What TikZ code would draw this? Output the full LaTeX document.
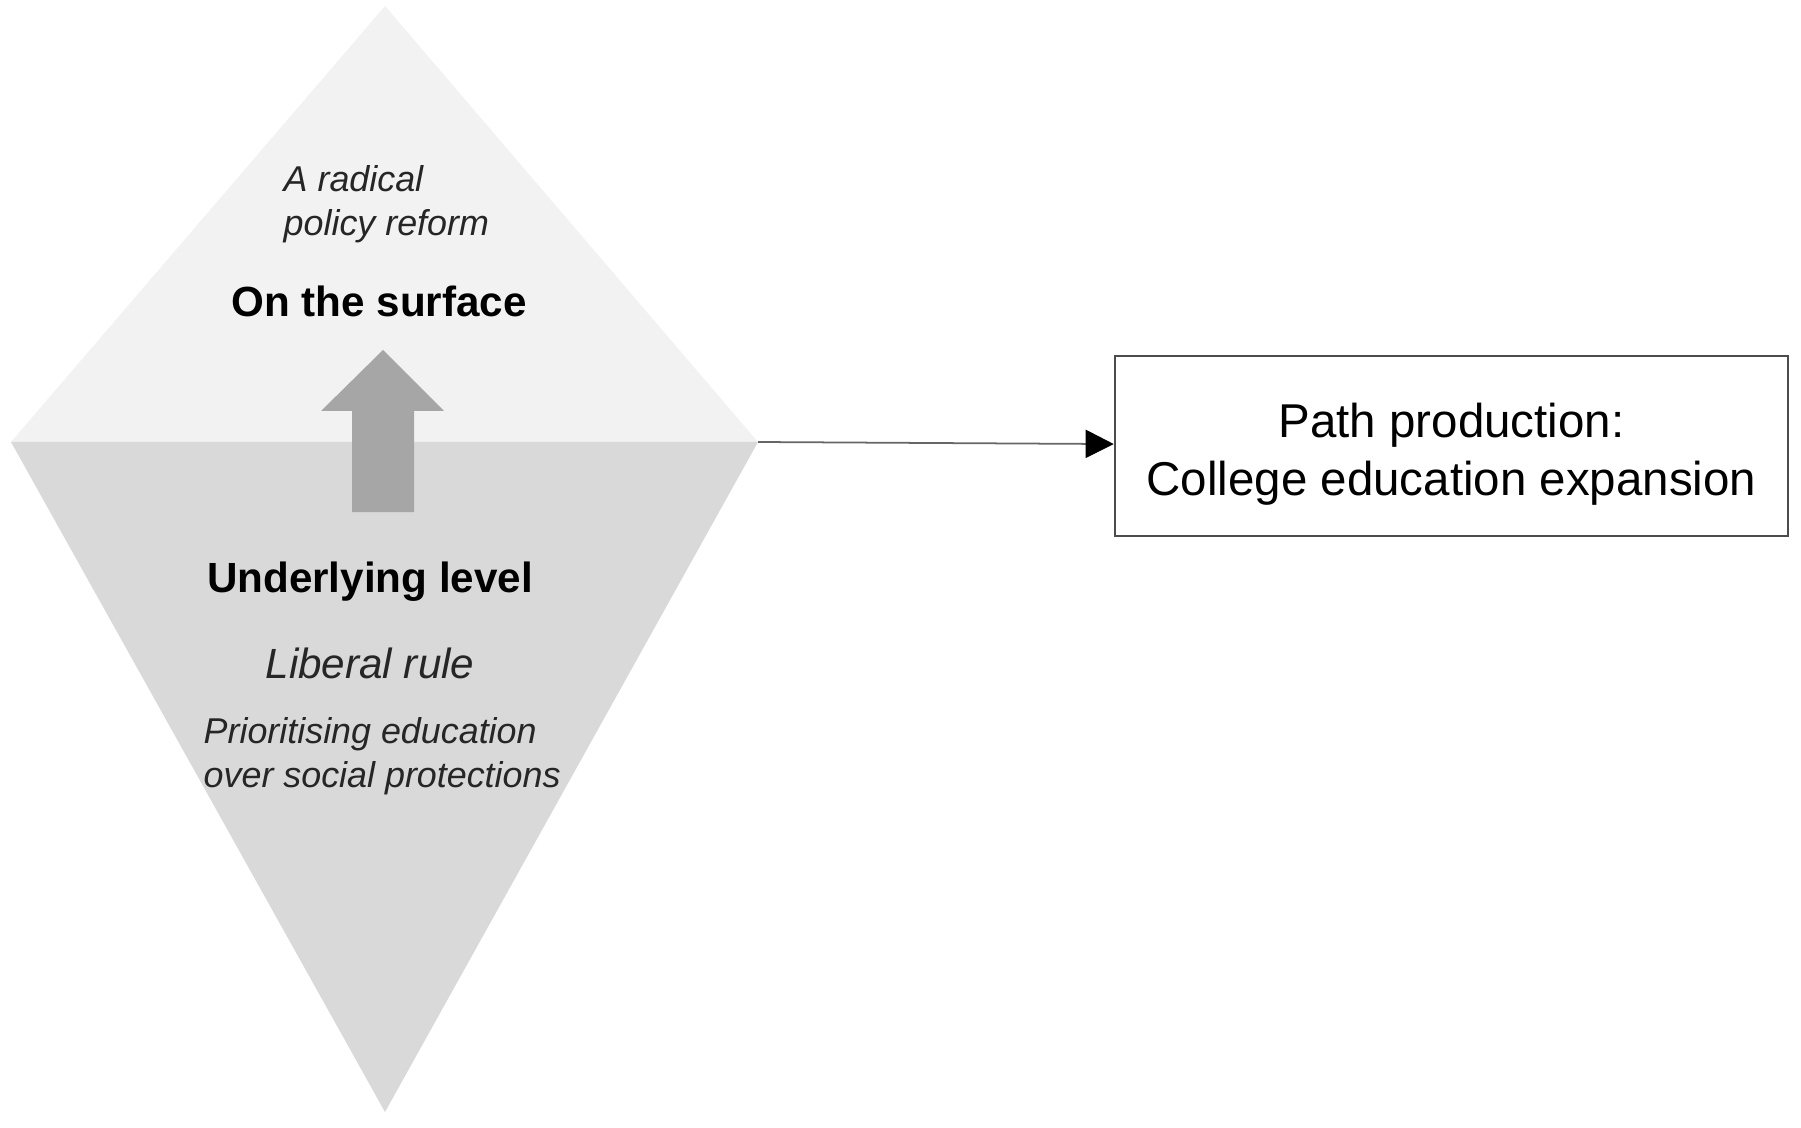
\documentclass[tikz,border=0pt]{standalone}
\usepackage{fontspec}
\setmainfont{Liberation Sans}
\usetikzlibrary{arrows.meta}
\definecolor{surfacegray}{RGB}{242,242,242}
\definecolor{deepgray}{RGB}{217,217,217}
\definecolor{arrowgray}{RGB}{166,166,166}
\tikzset{
  diagram heading/.style={font=\fontsize{12}{14}\selectfont\bfseries,inner sep=0pt},
  diagram note/.style={font=\fontsize{10.2}{12.4}\selectfont\itshape,text=black!85,align=left,inner sep=0pt},
  diagram box/.style={draw=black!70,line width=0.6pt,minimum width=6.73cm,minimum height=1.8cm,align=center,font=\fontsize{13.5}{16.5}\selectfont},
  diagram map/.style={-{Triangle[length=8pt,width=8pt,black]},draw=black!60,line width=0.5pt}
}

\begin{document}
\begin{tikzpicture}[x=0.01cm,y=-0.01cm]
  \useasboundingbox (0,0) rectangle (1801,1128);
  \coordinate (top) at (385,6);
  \coordinate (left) at (11,442);
  \coordinate (right) at (758,442);
  \coordinate (bottom) at (385,1112);
  \fill[surfacegray] (left)--(top)--(right)--cycle;
  \fill[deepgray] (left)--(right)--(bottom)--cycle;
  \fill[arrowgray] (352,512)--(352,411)--(321,411)--(383,350)--(444,411)--(414,411)--(414,512)--cycle;

  \node[diagram note,anchor=west] (reform) at (283,204) {A radical\\policy reform};
  \node[diagram heading] (surface) at (379,301) {On the surface};
  \node[diagram heading] (underlying) at (370,582) {Underlying level};
  \node[diagram note,font=\fontsize{12}{14}\selectfont\itshape] (liberal) at (370,663) {Liberal rule};
  \node[diagram note,anchor=west] (priority) at (203,756) {Prioritising education\\over social protections};

  \node[diagram box] (path) at (1451.5,446) {\rule{0pt}{14.5pt}Path production:\\College education expansion};
  \draw[diagram map] (right)--(path);
\end{tikzpicture}
\end{document}
